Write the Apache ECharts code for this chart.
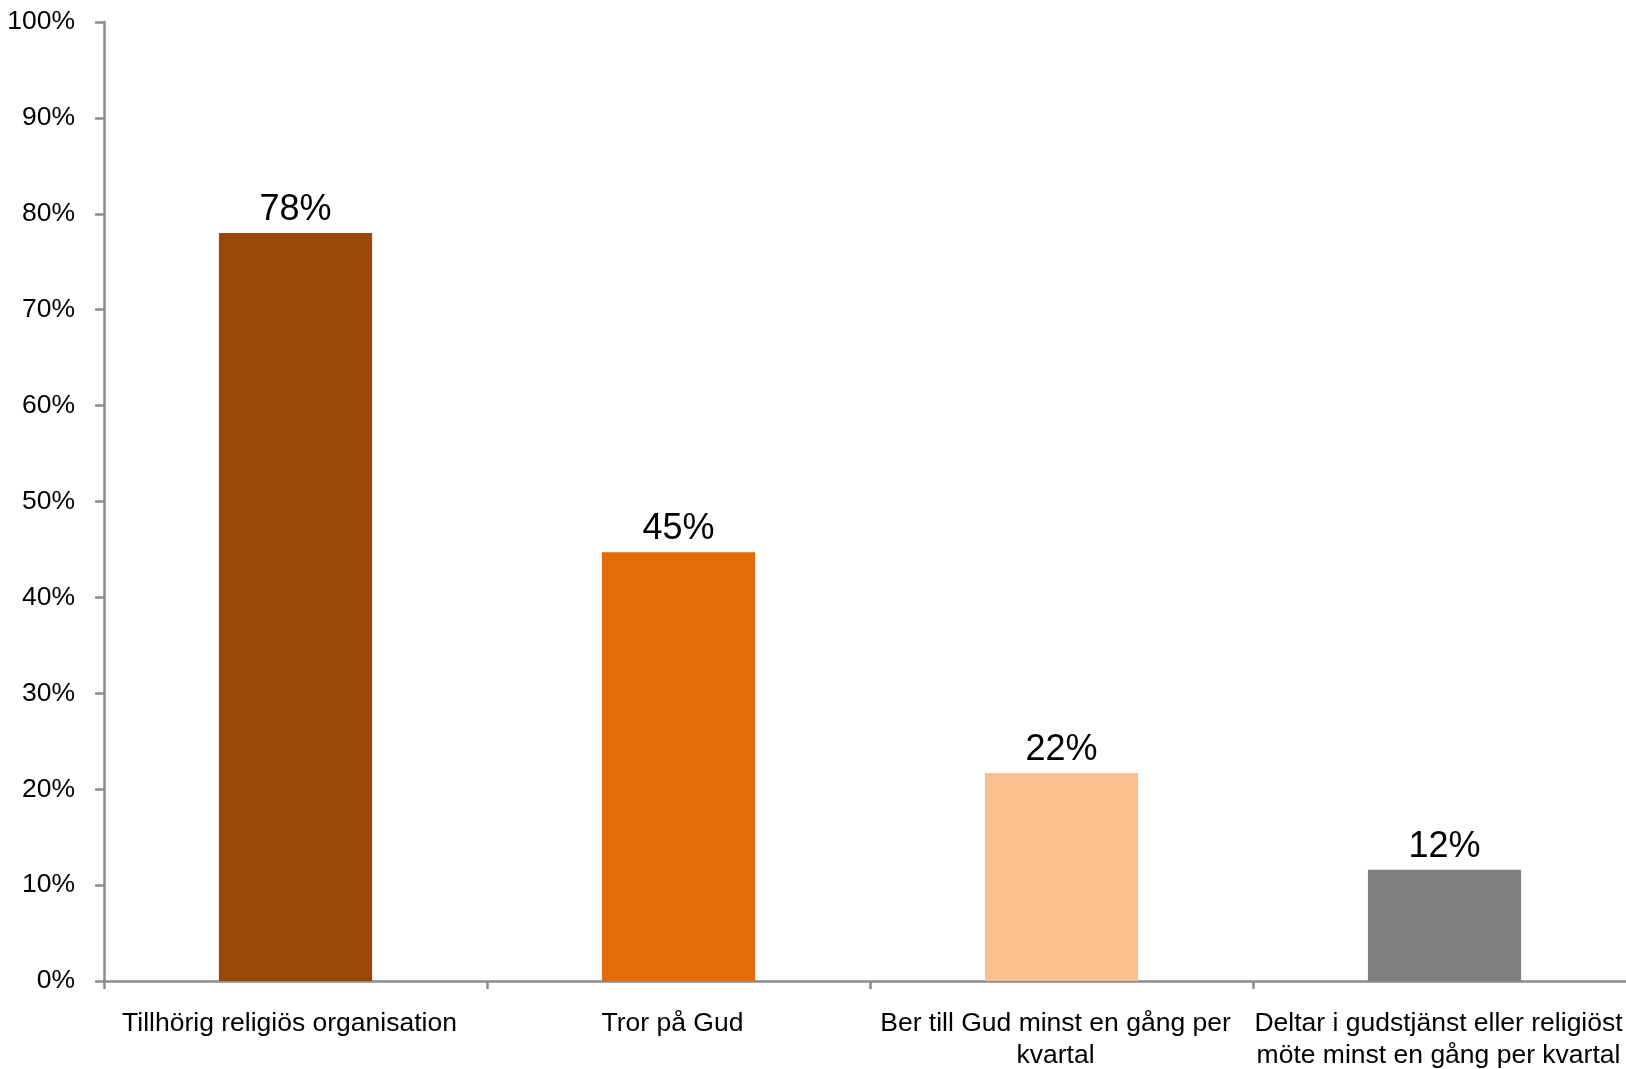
<!DOCTYPE html>
<html>
<head>
<meta charset="utf-8">
<script src="https://cdn.jsdelivr.net/npm/echarts@6/dist/echarts.min.js"></script>
<style>
html,body{margin:0;padding:0;background:#fff;}
#chart{width:1626px;height:1069px;}
</style>
</head>
<body>
<div id="chart"></div>
<script>
const categories = [
  "Tillhörig religiös organisation",
  "Tror på Gud",
  "Ber till Gud minst en gång per\nkvartal",
  "Deltar i gudstjänst eller religiöst\nmöte minst en gång per kvartal"
];
const values = [0.78, 0.447, 0.217, 0.116];
const barColors = ["#984807", "#E36C0A", "#FAC090", "#808080"];
const yTicks = [0, 0.1, 0.2, 0.3, 0.4, 0.5, 0.6, 0.7, 0.8, 0.9, 1.0];

const chart = echarts.init(document.getElementById('chart'), null, {renderer: 'canvas'});
const font = "'Liberation Sans', Arial, sans-serif";
chart.setOption({
  animation: false,
  backgroundColor: '#ffffff',
  grid: {left: 104, top: 22, bottom: 88, width: 1532, containLabel: false, outerBoundsMode: 'none'},
  xAxis: {
    type: 'category',
    data: categories,
    axisLine: {lineStyle: {color: '#8c8c8c', width: 2.5}},
    axisTick: {show: true, length: 8, interval: 0, lineStyle: {color: '#8c8c8c', width: 2.5}},
    axisLabel: {interval: 0, fontSize: 26.5, fontFamily: font, color: '#000', margin: 27, lineHeight: 32,
      padding: [0, 12, 0, 0]}
  },
  yAxis: {
    type: 'value',
    min: yTicks[0],
    max: yTicks[yTicks.length - 1],
    interval: 0.1,
    splitLine: {show: false},
    axisLine: {show: true, lineStyle: {color: '#8c8c8c', width: 2.5}},
    axisTick: {show: true, length: 9, lineStyle: {color: '#8c8c8c', width: 2.5}},
    axisLabel: {fontSize: 26.5, fontFamily: font, color: '#000', margin: 29,
      formatter: v => Math.round(v * 100) + '%'}
  },
  series: [{
    type: 'bar',
    barWidth: '40%',
    data: values.map((v, i) => ({value: v, itemStyle: {color: barColors[i]}})),
    label: {
      show: true, position: 'top', distance: 5,
      fontSize: 36, fontFamily: font, color: '#000',
      formatter: p => Math.round(p.value * 100) + '%'
    }
  }]
});
</script>
</body>
</html>
